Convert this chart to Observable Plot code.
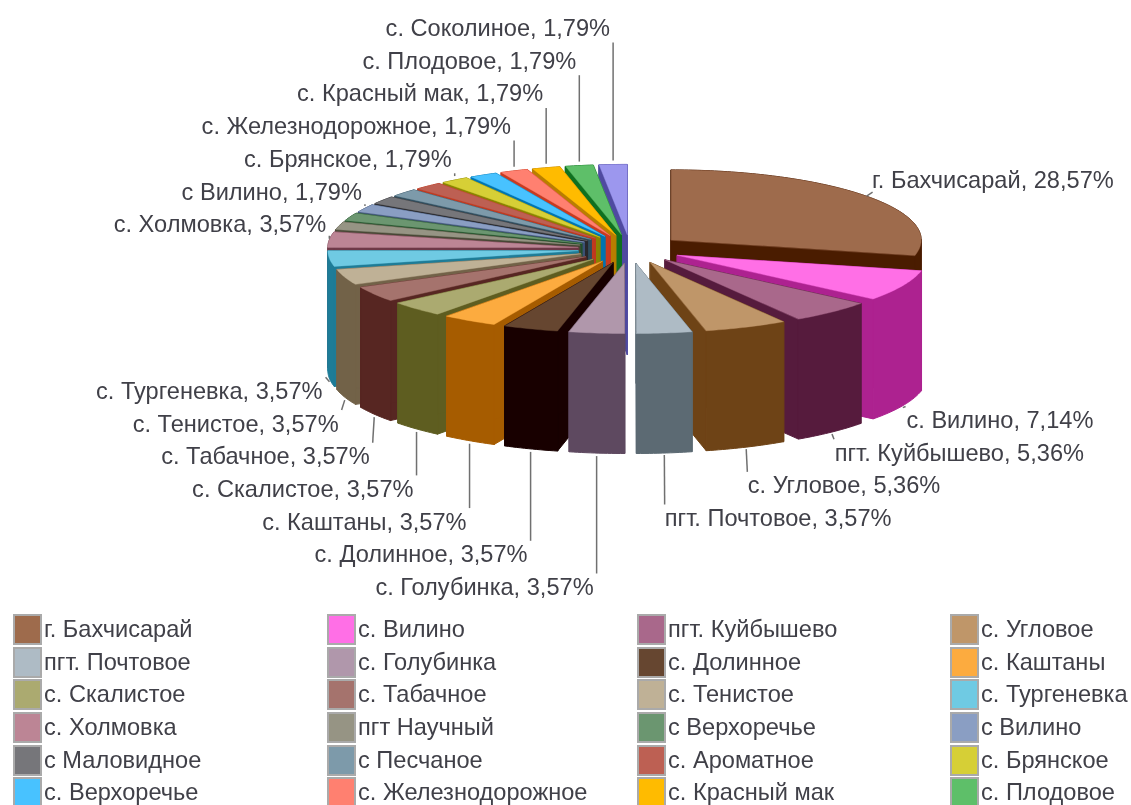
<!DOCTYPE html>
<html><head><meta charset="utf-8">
<style>
html,body{margin:0;padding:0;background:#fff;width:1131px;height:805px;overflow:hidden}
#page{filter:blur(.4px);height:805px;overflow:hidden}
svg{display:block}
#legend{display:grid;grid-template-columns:314px 310px 313px 181px;grid-auto-rows:32.7px;margin-left:12.5px;font:23.6px "Liberation Sans",Arial,sans-serif;color:#404048}
.it{display:flex;align-items:center;height:32.7px;white-space:nowrap}
.sw{box-sizing:border-box;width:29px;height:31px;border:2px solid #aaa;margin-right:2.5px;flex:none}
</style>
<script src="https://cdn.jsdelivr.net/npm/d3@7"></script>
<script src="https://cdn.jsdelivr.net/npm/@observablehq/plot@0.6"></script>
</head><body>
<div id="page"><div id="chart"></div><div id="legend"></div></div>
<script>
const names=["г. Бахчисарай","с. Вилино","пгт. Куйбышево","с. Угловое","пгт. Почтовое","с. Голубинка","с. Долинное","с. Каштаны","с. Скалистое","с. Табачное","с. Тенистое","с. Тургеневка","с. Холмовка","пгт Научный","с Верхоречье","с Вилино","с Маловидное","с Песчаное","с. Ароматное","с. Брянское","с. Верхоречье","с. Железнодорожное","с. Красный мак","с. Плодовое","с. Соколиное"];
const shares=[28.57,7.14,5.36,5.36,3.57,3.57,3.57,3.57,3.57,3.57,3.57,3.57,3.57,1.79,1.79,1.79,1.79,1.79,1.79,1.79,1.79,1.79,1.79,1.79,1.79];
const topColors=["#9E6B4C","#FF6FE6","#A9688B","#BF9669","#AEBBC5","#B097AB","#664630","#FCAB3F","#ABAA70","#A5736D","#BFB196","#6FCAE3","#BC8595","#969484","#6B9670","#8A9EC3","#76767A","#7D9AAA","#BD6053","#D6CF36","#48C2FF","#FF8070","#FFBB00","#5EBF69","#9C97EE"];
const wallColors=["#4A1C00","#AD2290","#561B3D","#6E4316","#5C6A73","#5E4960","#180000","#A65C00","#5E5D20","#572622","#726248","#1E7C97","#6E3847","#484735","#1F5028","#3C5175","#28282C","#2F4D5E","#C0391F","#8A8300","#0075B0","#C83A20","#B87E00","#0F7020","#4F4AA0"];
const unlabeled=["пгт Научный","с Верхоречье","с Маловидное","с Песчаное","с. Ароматное","с. Верхоречье"];
const legendCount=24;

// pie geometry
const H=613, W=1131, CX=629.6, CY=248.5, EX=52.6, EY=14.6, RX=250, RY=70, DEPTH=120, PITCH=32.7;
const total=d3.sum(shares), TAU=2*Math.PI;
let acc=0;
const slices=shares.map((v,i)=>{
  const a0=acc/total*TAU; acc+=v; const a1=acc/total*TAU, mid=(a0+a1)/2;
  const cx=CX+EX*Math.sin(mid), cy=CY-EY*Math.cos(mid);
  const at=a=>[cx+RX*Math.sin(a),cy-RY*Math.cos(a)];
  return {i,name:names[i],v,a0,a1,mid,cx,cy,at};
});
// painter's order: left half top→bottom, then right half top→bottom
const firstLeft=slices.findIndex(s=>s.mid>Math.PI);
const order=[...slices.slice(firstLeft).reverse(),...slices.slice(0,firstLeft)];
const polys=[]; let pid=0;
function poly(pts,fill,sw){const id=pid++;for(const p of pts)polys.push({x:p[0],y:p[1],id,fill,sw});}
for(const s of order){
  const n=Math.max(2,Math.ceil((s.a1-s.a0)/(TAU/360)));
  const arc=d3.range(n+1).map(k=>s.at(s.a0+(s.a1-s.a0)*k/n));
  const A=[s.cx,s.cy],down=p=>[p[0],p[1]+DEPTH];
  const S=arc[0],E=arc[n],w=wallColors[s.i];
  poly([A,S,down(S),down(A)],w,1);
  poly([A,E,down(E),down(A)],w,1);
  // outer wall: one band per x-monotonic run of the arc, so no band folds over itself
  let run=[arc[0]],dir=0;
  for(let k=1;k<=n;k++){
    const d=Math.sign(arc[k][0]-arc[k-1][0]);
    if(dir&&d!==dir){poly([...run,...run.map(down).reverse()],w,1);run=[arc[k-1]];}
    dir=d;run.push(arc[k]);
  }
  poly([...run,...run.map(down).reverse()],w,1);
  poly([A,...arc],topColors[s.i],.4);
}
// labels: stacked rows, aligned to each slice's outer midpoint
const labeled=slices.filter(s=>!unlabeled.includes(s.name));
const fmt=v=>v.toFixed(2).replace(".",",");
const labels=[],leaders=[];
const upper=labeled.filter(s=>s.mid>3*Math.PI/2).reverse();
upper.forEach((s,k)=>{const [x,y]=s.at(s.mid);const ty=28+k*PITCH;
  labels.push({x:x-3,y:ty,t:`${s.name}, ${fmt(s.v)}%`,anchor:"end"});
  leaders.push({x1:x,y1:y-4,x2:x,y2:ty+14});});
const lowerL=labeled.filter(s=>s.mid>Math.PI&&s.mid<=3*Math.PI/2);
lowerL.forEach((s,k)=>{const [x,y0]=s.at(s.mid);const y=y0+DEPTH,ty=587-k*PITCH;
  const dx=Math.min(0,(Math.sin(s.mid)+.75)*16);
  labels.push({x:x+dx-3,y:ty,t:`${s.name}, ${fmt(s.v)}%`,anchor:"end"});
  leaders.push({x1:x,y1:y+3,x2:x+dx,y2:ty-14});});
const right=labeled.filter(s=>s.mid<=Math.PI);
right.forEach((s,k)=>{const [x,y0]=s.at(s.mid);
  if(k===0){labels.push({x:x+5.5,y:y0-16,t:`${s.name}, ${fmt(s.v)}%`,anchor:"start"});
    leaders.push({x1:x,y1:y0,x2:x+6,y2:y0-4});return;}
  const y=y0+DEPTH,ty=420+(k-1)*PITCH;
  labels.push({x:x+Math.max(0,Math.sin(s.mid)*4),y:ty,t:`${s.name}, ${fmt(s.v)}%`,anchor:"start"});
  leaders.push({x1:x,y1:y+2,x2:x+Math.max(0,Math.sin(s.mid)*3),y2:ty-14});});

const textOpts={x:"x",y:"y",text:"t",fontSize:23.6,fill:"#404048",fontFamily:"Liberation Sans"};
const chart=Plot.plot({width:W,height:H,margin:0,
  x:{domain:[0,W],range:[0,W],axis:null},
  y:{domain:[0,H],range:[0,H],axis:null},
  marks:[
    Plot.line(polys,{x:"x",y:"y",z:"id",fill:"fill",stroke:"fill",strokeWidth:"sw",curve:"linear-closed"}),
    Plot.link(leaders,{x1:"x1",y1:"y1",x2:"x2",y2:"y2",stroke:"#707070",strokeWidth:1.5}),
    Plot.text(labels.filter(d=>d.anchor==="end"),{...textOpts,textAnchor:"end"}),
    Plot.text(labels.filter(d=>d.anchor==="start"),{...textOpts,textAnchor:"start"})
  ]});
document.getElementById("chart").append(chart);
const lg=document.getElementById("legend");
names.slice(0,legendCount).forEach((n,i)=>{const d=document.createElement("div");d.className="it";
  const b=document.createElement("span");b.className="sw";b.style.background=topColors[i];
  const t=document.createElement("span");t.textContent=n;d.append(b,t);lg.append(d);});
</script></body></html>
